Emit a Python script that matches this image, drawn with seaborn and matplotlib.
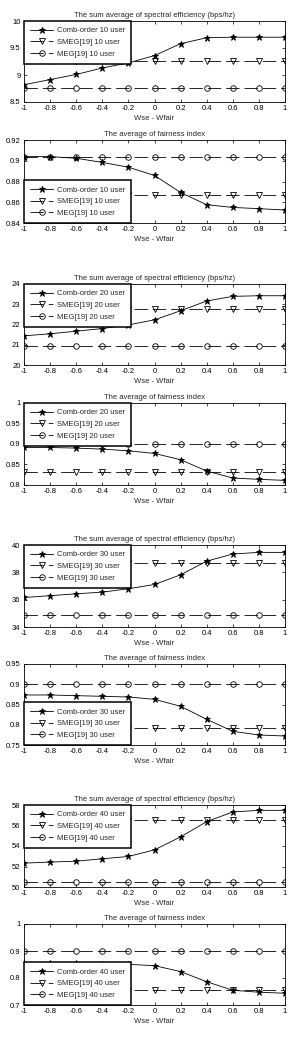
import numpy as np
import pandas as pd
import seaborn as sns
import matplotlib
matplotlib.use('Agg')
import matplotlib.pyplot as plt
from matplotlib.ticker import FormatStrFormatter

# x axis: Wse - Wfair
w = [-1, -0.8, -0.6, -0.4, -0.2, 0, 0.2, 0.4, 0.6, 0.8, 1]
users = [10, 20, 30, 40]

# spectral efficiency (bps/hz)
se_comb = {
    10: [8.82, 8.915, 9.01, 9.13, 9.225, 9.36, 9.58, 9.69, 9.70, 9.70, 9.70],
    20: [21.44, 21.54, 21.67, 21.80, 21.98, 22.23, 22.68, 23.16, 23.39, 23.42, 23.42],
    30: [36.16, 36.29, 36.43, 36.55, 36.80, 37.11, 37.82, 38.82, 39.34, 39.46, 39.46],
    40: [52.33, 52.43, 52.52, 52.75, 52.98, 53.62, 54.89, 56.38, 57.32, 57.48, 57.48],
}
se_smeg = {10: 9.26, 20: 22.76, 30: 38.65, 40: 56.51}
se_meg = {10: 8.76, 20: 20.94, 30: 34.91, 40: 50.49}

# fairness index
fi_comb = {
    10: [0.904, 0.904, 0.9024, 0.8984, 0.8938, 0.8858, 0.8694, 0.8576, 0.855, 0.8538, 0.8525],
    20: [0.8915, 0.8915, 0.890, 0.8875, 0.8834, 0.877, 0.8616, 0.834, 0.817, 0.8138, 0.8113],
    30: [0.8735, 0.8735, 0.8718, 0.8702, 0.8685, 0.8628, 0.8456, 0.8134, 0.7838, 0.7747, 0.7722],
    40: [0.8554, 0.8554, 0.8554, 0.853, 0.8506, 0.8457, 0.8238, 0.7861, 0.7545, 0.7473, 0.7436],
}
fi_smeg = {10: 0.8669, 20: 0.8308, 30: 0.7928, 40: 0.757}
fi_meg = {10: 0.904, 20: 0.90, 30: 0.9014, 40: 0.9004}

se_yticks = {10: [8.5, 9, 9.5, 10], 20: [20, 21, 22, 23, 24],
             30: [34, 36, 38, 40], 40: [50, 52, 54, 56, 58]}
fi_yticks = {10: [0.84, 0.86, 0.88, 0.9, 0.92], 20: [0.8, 0.85, 0.9, 0.95, 1],
             30: [0.75, 0.8, 0.85, 0.9, 0.95], 40: [0.7, 0.8, 0.9, 1]}
fi_legend_loc = {10: 'lower left', 20: 'upper left', 30: 'lower left', 40: 'lower left'}

se_title = 'The sum average of spectral efficiency (bps/hz)'
fi_title = 'The average of fairness index'
xlab = 'Wse - Wfair'

sns.set_style('ticks')
plt.rcParams['font.family'] = ['Liberation Sans', 'DejaVu Sans']
plt.rcParams['xtick.direction'] = 'in'
plt.rcParams['ytick.direction'] = 'in'
plt.rcParams['xtick.top'] = True
plt.rcParams['ytick.right'] = True

fig = plt.figure(figsize=(2.91, 10.38), dpi=100)

# axes top / bottom in pixels
boxes = [(21, 102), (140, 223), (284, 365), (403, 485),
         (545, 627), (664, 745), (805, 887), (924, 1005)]
H = 1038.0
left = 24 / 291.0
width = 261 / 291.0


def draw(ax, comb, smeg, meg, n, yticks, title, loc):
    names = ['Comb-order %d user' % n, 'SMEG[19] %d user' % n, 'MEG[19] %d user' % n]
    df = pd.DataFrame({
        'w': w * 3,
        'val': list(comb) + [smeg] * len(w) + [meg] * len(w),
        'method': [names[0]] * len(w) + [names[1]] * len(w) + [names[2]] * len(w),
    })
    sns.lineplot(data=df, x='w', y='val', hue='method', style='method',
                 palette={k: 'black' for k in names},
                 dashes={names[0]: '', names[1]: (16, 6), names[2]: (16, 6)},
                 markers={names[0]: '*', names[1]: 'v', names[2]: 'o'},
                 markersize=4, mfc='none', mec='black', mew=0.6,
                 linewidth=0.6, legend=False, ax=ax)
    ax.lines[0].set_markerfacecolor('black')
    ax.lines[0].set_markersize(4.5)
    ax.set_xlim(-1, 1)
    ax.set_ylim(yticks[0], yticks[-1])
    ax.set_xticks(w)
    ax.set_xticklabels(['%g' % v for v in w])
    ax.set_yticks(yticks)
    ax.yaxis.set_major_formatter(FormatStrFormatter('%g'))
    ax.tick_params(labelsize=5.5, length=2, width=0.5, pad=2.5, colors='black')
    for s in ax.spines.values():
        s.set_linewidth(0.6)
        s.set_color('black')
    ax.set_title(title, fontsize=5.5, pad=3)
    ax.set_xlabel(xlab, fontsize=5.5, labelpad=2)
    ax.set_ylabel('')
    leg = ax.legend(ax.lines[:3], names, loc=loc, fontsize=5.5, frameon=True,
                    fancybox=False, framealpha=1, edgecolor='black',
                    borderaxespad=0, handlelength=3.0, handletextpad=0.5,
                    borderpad=0.8, labelspacing=0.55)
    leg.get_frame().set_linewidth(1.1)


for i, n in enumerate(users):
    t, b = boxes[2 * i]
    ax = fig.add_axes([left, 1 - b / H, width, (b - t) / H])
    draw(ax, se_comb[n], se_smeg[n], se_meg[n], n, se_yticks[n], se_title, 'upper left')
    t, b = boxes[2 * i + 1]
    ax = fig.add_axes([left, 1 - b / H, width, (b - t) / H])
    draw(ax, fi_comb[n], fi_smeg[n], fi_meg[n], n, fi_yticks[n], fi_title, fi_legend_loc[n])

fig.savefig('out.png', dpi=100)
